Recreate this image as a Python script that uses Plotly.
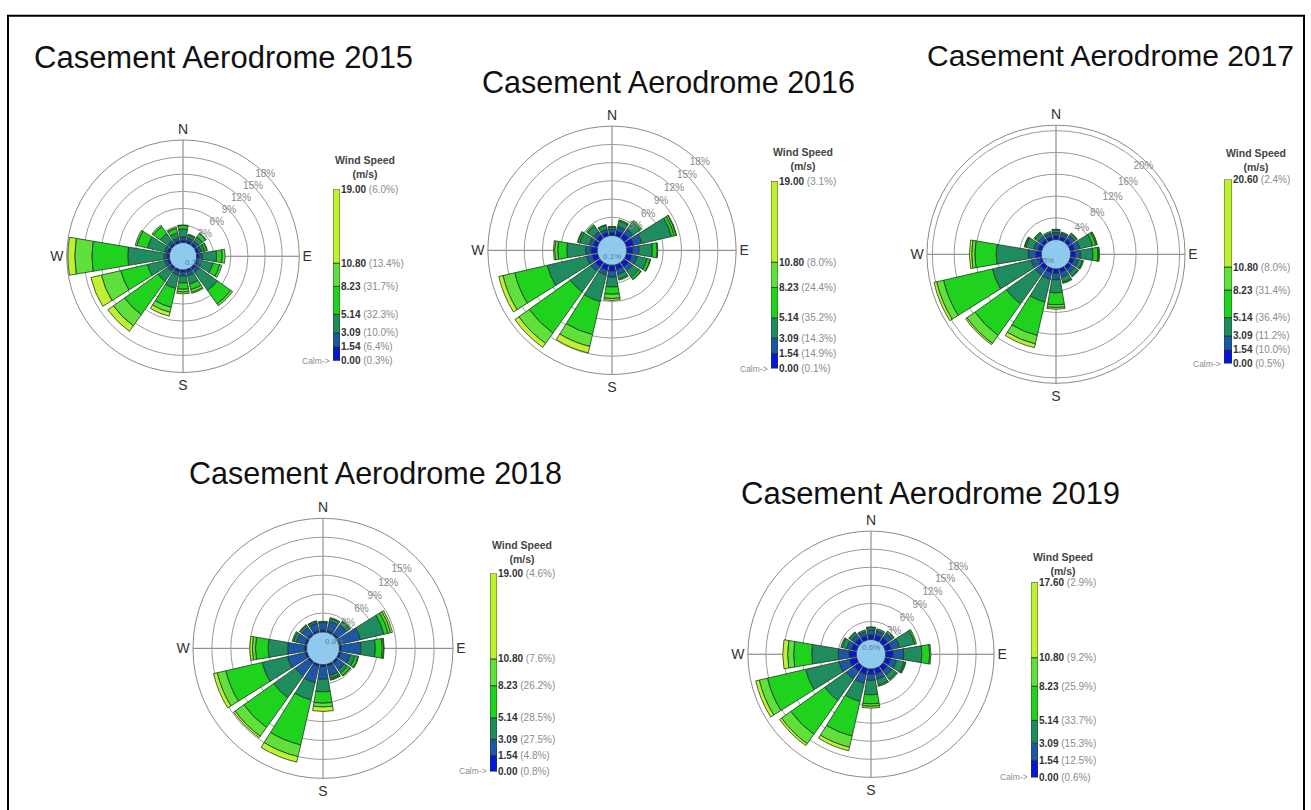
import plotly.graph_objects as go

W, H = 1311, 810

# ---------------- data ----------------
directions = [0, 22.5, 45, 67.5, 90, 112.5, 135, 157.5,
              180, 202.5, 225, 247.5, 270, 292.5, 315, 337.5]
years = ["2015", "2016", "2017", "2018", "2019"]
titles = ["Casement Aerodrome 2015", "Casement Aerodrome 2016", "Casement Aerodrome 2017",
          "Casement Aerodrome 2018", "Casement Aerodrome 2019"]
calm_labels = ["0.3%", "0.1%", "0.5%", "0.8%", "0.6%"]

# cumulative frequency (%) per direction, classes:
# 0.5-1.54, 1.54-3.09, 3.09-5.14, 5.14-8.23, 8.23-10.8, >=10.8 m/s
cum_2015 = [
    [0.4, 1.0, 2.4, 3.0, 3.1, 3.1],
    [0.4, 0.9, 1.4, 1.6, 1.6, 1.6],
    [0.4, 0.9, 1.8, 2.5, 2.6, 2.6],
    [0.4, 0.9, 1.5, 1.9, 2.0, 2.0],
    [0.4, 1.0, 3.5, 4.5, 5.0, 5.0],
    [0.4, 1.0, 3.0, 4.2, 4.6, 4.6],
    [0.4, 1.1, 5.0, 7.9, 8.3, 8.3],
    [0.4, 1.1, 2.6, 3.6, 4.1, 4.3],
    [0.4, 1.1, 2.3, 3.4, 3.9, 4.2],
    [0.4, 1.0, 3.4, 6.8, 7.7, 8.4],
    [0.4, 0.9, 3.0, 10.2, 12.6, 13.8],
    [0.4, 0.9, 4.0, 8.8, 12.3, 14.2],
    [0.4, 0.9, 7.3, 13.6, 16.6, 17.8],
    [0.4, 0.9, 4.0, 5.9, 6.2, 6.2],
    [0.4, 0.9, 2.5, 4.0, 4.3, 4.3],
    [0.4, 0.9, 1.8, 2.6, 2.8, 2.8],
]
cum_2016 = [
    [0.5, 1.0, 1.4, 1.5, 1.5, 1.5],
    [0.8, 1.6, 2.5, 2.7, 2.7, 2.7],
    [0.9, 1.8, 3.3, 3.6, 3.6, 3.6],
    [1.2, 2.6, 7.6, 8.1, 8.4, 8.5],
    [1.0, 2.0, 4.2, 5.0, 5.1, 5.1],
    [0.9, 1.8, 3.5, 4.0, 4.1, 4.1],
    [0.9, 1.7, 3.0, 3.4, 3.5, 3.5],
    [0.8, 1.6, 2.4, 2.6, 2.6, 2.6],
    [1.0, 2.0, 3.6, 4.8, 5.5, 5.8],
    [0.9, 1.7, 6.2, 11.8, 13.8, 14.9],
    [0.9, 1.8, 6.0, 14.3, 16.4, 17.2],
    [0.9, 1.8, 8.5, 14.0, 16.0, 16.7],
    [1.0, 1.9, 5.0, 6.5, 7.0, 7.2],
    [0.7, 1.4, 3.0, 3.3, 3.4, 3.4],
    [0.7, 1.3, 2.5, 2.8, 2.8, 2.8],
    [0.6, 1.1, 1.8, 1.9, 1.9, 1.9],
]
cum_2017 = [
    [0.7, 1.3, 1.8, 1.9, 1.9, 1.9],
    [0.6, 1.2, 1.5, 1.5, 1.5, 1.5],
    [0.7, 1.5, 2.0, 2.1, 2.1, 2.1],
    [0.8, 1.8, 4.2, 4.8, 5.0, 5.1],
    [0.8, 1.8, 4.1, 5.0, 5.2, 5.3],
    [0.7, 1.5, 2.3, 2.5, 2.5, 2.5],
    [0.7, 1.5, 2.3, 2.4, 2.4, 2.4],
    [0.7, 1.6, 2.6, 2.8, 2.8, 2.8],
    [0.8, 2.0, 4.4, 6.6, 7.1, 7.4],
    [0.8, 2.0, 6.3, 12.6, 14.2, 14.9],
    [0.8, 2.0, 8.5, 15.6, 17.4, 17.7],
    [0.8, 2.0, 9.3, 18.5, 19.8, 20.3],
    [1.0, 2.4, 8.3, 12.2, 12.8, 13.2],
    [0.7, 1.5, 3.0, 3.2, 3.3, 3.3],
    [0.6, 1.3, 2.1, 2.3, 2.3, 2.3],
    [0.6, 1.2, 1.6, 1.6, 1.6, 1.6],
]
cum_2018 = [
    [0.3, 1.5, 1.7, 1.7, 1.7, 1.7],
    [0.3, 1.8, 2.3, 2.4, 2.4, 2.4],
    [0.3, 2.0, 2.6, 2.8, 2.8, 2.8],
    [0.3, 3.5, 7.3, 8.0, 8.4, 8.7],
    [0.3, 3.4, 5.7, 6.8, 7.0, 7.1],
    [0.3, 1.8, 2.6, 3.1, 3.2, 3.2],
    [0.3, 1.6, 2.2, 2.7, 2.8, 2.8],
    [0.3, 1.8, 2.3, 2.5, 2.6, 2.6],
    [0.3, 2.3, 4.3, 6.1, 6.7, 7.4],
    [0.3, 3.0, 5.8, 13.1, 15.0, 15.9],
    [0.3, 2.8, 7.0, 12.8, 14.5, 14.8],
    [0.3, 3.2, 7.3, 13.2, 14.6, 15.2],
    [0.3, 3.0, 6.1, 8.1, 8.6, 9.0],
    [0.3, 1.7, 2.2, 2.4, 2.4, 2.4],
    [0.3, 1.5, 1.9, 2.0, 2.0, 2.0],
    [0.3, 1.5, 1.8, 1.9, 1.9, 1.9],
]
cum_2019 = [
    [0.8, 1.6, 2.0, 2.1, 2.1, 2.1],
    [0.8, 1.5, 1.9, 1.9, 1.9, 1.9],
    [0.9, 1.8, 2.2, 2.3, 2.3, 2.3],
    [1.0, 2.4, 5.0, 5.3, 5.3, 5.3],
    [1.2, 3.0, 6.0, 7.3, 7.5, 7.5],
    [0.9, 1.9, 3.2, 3.4, 3.5, 3.5],
    [0.9, 1.8, 2.7, 2.9, 2.9, 2.9],
    [0.9, 1.8, 2.8, 3.0, 3.0, 3.0],
    [0.9, 1.9, 4.3, 5.8, 6.2, 6.5],
    [1.0, 2.5, 5.6, 11.5, 13.4, 14.0],
    [1.0, 2.6, 7.0, 13.9, 15.8, 16.2],
    [1.2, 3.0, 8.7, 15.2, 16.6, 17.2],
    [1.2, 3.0, 7.4, 10.4, 11.4, 12.2],
    [0.9, 1.7, 2.5, 2.7, 2.7, 2.7],
    [0.8, 1.5, 2.0, 2.1, 2.1, 2.1],
    [0.7, 1.4, 1.7, 1.7, 1.7, 1.7],
]
cum_all = [cum_2015, cum_2016, cum_2017, cum_2018, cum_2019]

# legend: speed class boundaries (m/s) and class frequencies (%)
speed_2015 = [0.00, 1.54, 3.09, 5.14, 8.23, 10.80, 19.00]
speed_2016 = [0.00, 1.54, 3.09, 5.14, 8.23, 10.80, 19.00]
speed_2017 = [0.00, 1.54, 3.09, 5.14, 8.23, 10.80, 20.60]
speed_2018 = [0.00, 1.54, 3.09, 5.14, 8.23, 10.80, 19.00]
speed_2019 = [0.00, 1.54, 3.09, 5.14, 8.23, 10.80, 17.60]
pct_2015 = [0.3, 6.4, 10.0, 32.3, 31.7, 13.4, 6.0]
pct_2016 = [0.1, 14.9, 14.3, 35.2, 24.4, 8.0, 3.1]
pct_2017 = [0.5, 10.0, 11.2, 36.4, 31.4, 8.0, 2.4]
pct_2018 = [0.8, 4.8, 27.5, 28.5, 26.2, 7.6, 4.6]
pct_2019 = [0.6, 12.5, 15.3, 33.7, 25.9, 9.2, 2.9]
speed_all = [speed_2015, speed_2016, speed_2017, speed_2018, speed_2019]
pct_all = [pct_2015, pct_2016, pct_2017, pct_2018, pct_2019]

# radial axis settings
radial_max = [18, 18, 21, 18, 18]
radial_ticks = [[3, 6, 9, 12, 15, 18], [3, 6, 9, 12, 15, 18], [4, 8, 12, 16, 20],
                [3, 6, 9, 12, 15], [3, 6, 9, 12, 15, 18]]
calm_offset = [2.4, 2.45, 2.7, 2.6, 2.45]

# ---------------- styling / layout (pixels) ----------------
class_colors = ["#0a14d6", "#1d56a6", "#1f8c5f", "#1ed21e", "#5fe03a", "#bff032"]
calm_color = "#8fcaee"
FONT = "Arial, Liberation Sans, sans-serif"

# rose centre x, centre y, outer radius
rose_geom = [(183, 254, 118), (612, 248, 126), (1056, 252, 131), (323, 652, 132), (871, 658, 125)]
# legend bar x0, x1, top, bottom, title bottom y
leg_geom = [(333, 340, 186, 360, 179), (771, 778, 178, 368, 171),
            (1224, 1232, 176, 363, 172), (490, 497, 576, 777, 569),
            (1031, 1038, 585, 783, 582)]
title_pos = [(32, 52), (480, 77), (925, 50), (187, 474), (739, 495)]
title_size = [31, 30.5, 30, 30.5, 31]


def fx(px):
    return px / W


def fy(py):
    return 1 - py / H


fig = go.Figure()
annotations = []
layout = dict(width=W, height=H, margin=dict(l=0, r=0, t=0, b=0),
              paper_bgcolor="white", plot_bgcolor="white",
              showlegend=False, barmode="overlay", font=dict(family=FONT))

for i, yr in enumerate(years):
    sp = "polar" if i == 0 else f"polar{i + 1}"
    cx, cy, R = rose_geom[i]
    c = calm_offset[i]
    cum = cum_all[i]

    # ring labels along the NE direction
    fig.add_trace(go.Scatterpolar(r=radial_ticks[i], theta=[45] * len(radial_ticks[i]),
                                  mode="text", text=[f"{t}%" for t in radial_ticks[i]],
                                  textfont=dict(size=10, color="#8a8a8a", family=FONT),
                                  subplot=sp, hoverinfo="skip"))
    # calm circle
    fig.add_trace(go.Barpolar(r=[c], base=[-c], theta=[0], width=[360],
                              marker=dict(color=calm_color, line=dict(color="#6fa8d8", width=0.6)),
                              subplot=sp, hoverinfo="skip"))
    # wind classes
    for b in range(6):
        lower = [row[b - 1] if b > 0 else 0.0 for row in cum]
        rr = [row[b] - lo for row, lo in zip(cum, lower)]
        fig.add_trace(go.Barpolar(r=rr, base=lower, theta=directions, width=[19] * 16,
                                  marker=dict(color=class_colors[b],
                                              line=dict(color="#1d3a22", width=0.8)),
                                  subplot=sp))

    layout[sp] = dict(
        domain=dict(x=[fx(cx - R), fx(cx + R)], y=[fy(cy + R), fy(cy - R)]),
        bgcolor="white", barmode="overlay",
        angularaxis=dict(rotation=90, direction="clockwise", tickmode="array",
                         tickvals=[0, 90, 180, 270], ticktext=["N", "E", "S", "W"],
                         showgrid=True, gridcolor="#7a7a7a", gridwidth=1,
                         showline=True, linecolor="#8a8a8a", linewidth=1,
                         ticks="", tickfont=dict(size=14, color="#333333", family=FONT),
                         layer="below traces"),
        radialaxis=dict(range=[-c, radial_max[i]], tickmode="array",
                        tickvals=radial_ticks[i], showticklabels=False,
                        angle=45, showline=False, ticks="",
                        showgrid=True, gridcolor="#9a9a9a", gridwidth=1,
                        layer="below traces"),
    )

    # calm label
    annotations.append(dict(x=fx(cx), y=fy(cy), xref="paper", yref="paper",
                            text=calm_labels[i], showarrow=False,
                            font=dict(size=8, color="#5b7d9c", family=FONT)))

    # title
    tx, ty = title_pos[i]
    annotations.append(dict(x=fx(tx), y=fy(ty), xref="paper", yref="paper",
                            xanchor="left", yanchor="middle", text=titles[i], showarrow=False,
                            font=dict(size=title_size[i], color="#111111", family=FONT)))

    # legend colour bar
    x0, x1, top, bot, tby = leg_geom[i]
    k = i + 1
    xa = "xaxis" if k == 1 else f"xaxis{k}"
    ya = "yaxis" if k == 1 else f"yaxis{k}"
    xr = "x" if k == 1 else f"x{k}"
    yrf = "y" if k == 1 else f"y{k}"
    spd = speed_all[i]
    pct = pct_all[i]
    fig.add_trace(go.Bar(x=[0] * 6, y=[spd[j + 1] - spd[j] for j in range(6)], base=spd[:-1],
                         width=1, marker=dict(color=class_colors, line=dict(color="#1d3a22", width=0.8)),
                         xaxis=xr, yaxis=yrf, hoverinfo="skip"))
    layout[xa] = dict(domain=[fx(x0), fx(x1)], range=[-0.5, 0.5], visible=False,
                      anchor=yrf, fixedrange=True)
    layout[ya] = dict(domain=[fy(bot), fy(top)], range=[0, spd[-1]], side="right",
                      anchor=xr, tickmode="array", tickvals=spd,
                      ticktext=[f"<b>{v:.2f}</b> <span style='color:#8c8c8c'>({p:.1f}%)</span>"
                                for v, p in zip(spd, pct)],
                      showgrid=False, zeroline=False, showline=False, ticks="",
                      tickfont=dict(size=10, color="#333333", family=FONT), fixedrange=True)
    annotations.append(dict(x=fx(x0 + 32), y=fy(tby), xref="paper", yref="paper",
                            xanchor="center", yanchor="bottom",
                            text="<b>Wind Speed</b><br><b>(m/s)</b>", showarrow=False,
                            font=dict(size=10.5, color="#444444", family=FONT)))
    annotations.append(dict(x=fx(x0 - 1), y=fy(bot), xref="paper", yref="paper",
                            xanchor="right", yanchor="middle", text="Calm->", showarrow=False,
                            font=dict(size=8.5, color="#8c8c8c", family=FONT)))

layout["annotations"] = annotations
layout["shapes"] = [dict(type="rect", xref="paper", yref="paper",
                         x0=fx(8), x1=fx(1304), y0=fy(830), y1=fy(10),
                         line=dict(color="black", width=2), fillcolor="rgba(0,0,0,0)")]
fig.update_layout(**layout)
fig.write_html("out.html", config={"displayModeBar": False},
               post_script="document.body.style.margin='0px';")
